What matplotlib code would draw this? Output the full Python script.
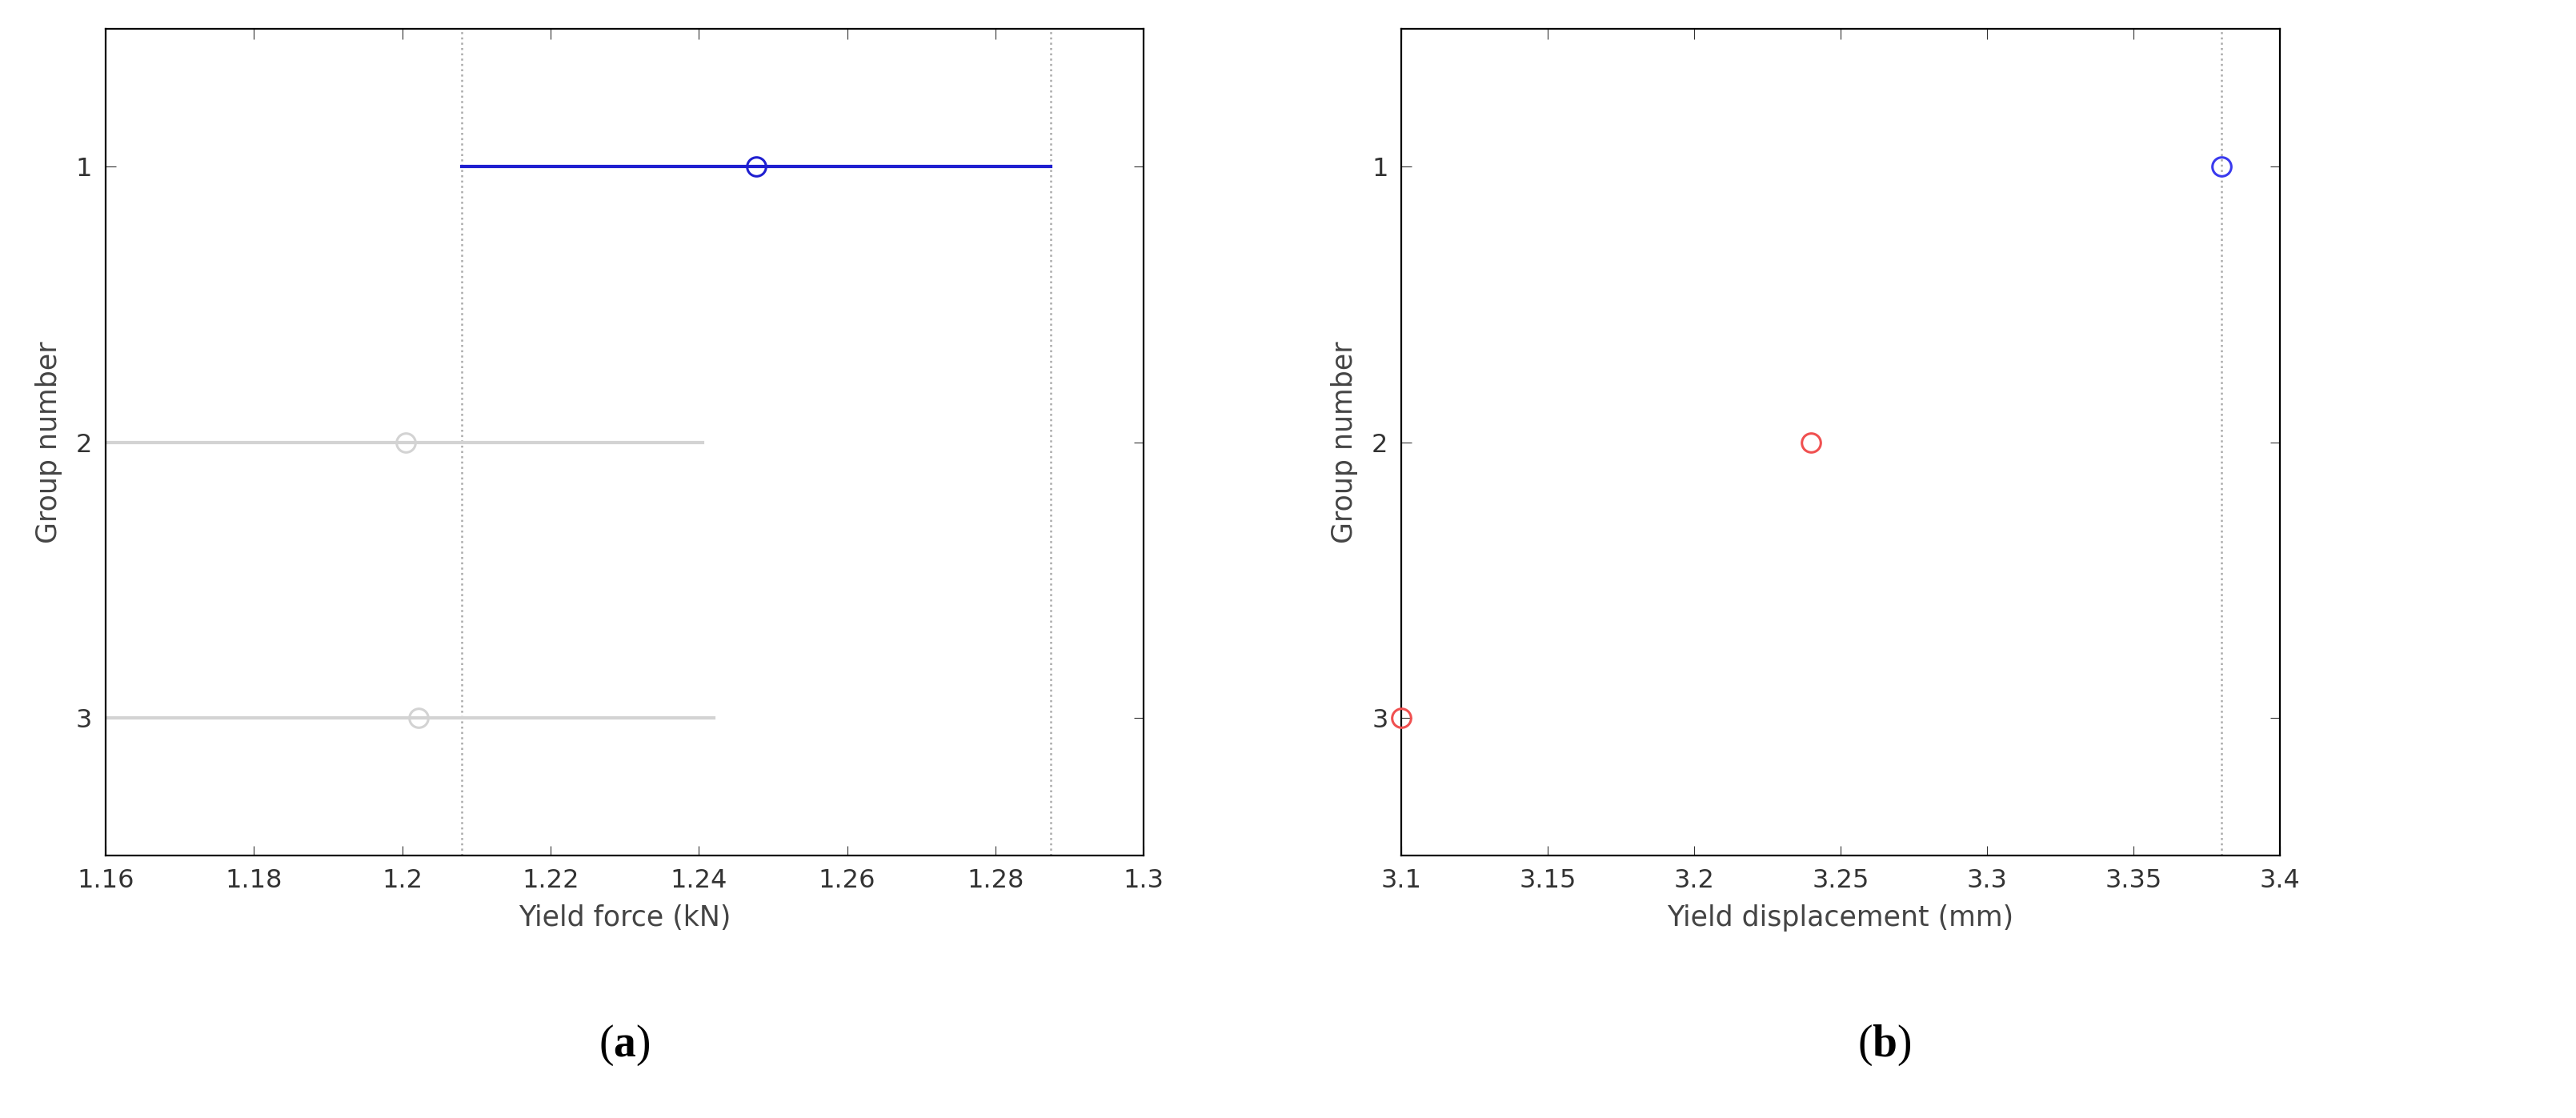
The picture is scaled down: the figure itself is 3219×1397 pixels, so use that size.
import matplotlib
matplotlib.use("Agg")
import matplotlib.pyplot as plt

plt.rcParams["mathtext.fontset"] = "custom"
plt.rcParams["mathtext.rm"] = "Liberation Serif"
plt.rcParams["mathtext.bf"] = "Liberation Serif:bold"

groups = [1, 2, 3]
force_mean = [1.2477, 1.2005, 1.2022]
force_lo = [1.208, 1.160, 1.160]
force_hi = [1.2875, 1.2405, 1.242]
force_colors = ["#1f1fd0", "#d3d3d3", "#d3d3d3"]
force_ref = [1.208, 1.2875]
disp_mean = [3.38, 3.24, 3.10]
disp_colors = ["#3a3aee", "#f05050", "#f05050"]
disp_ref = [3.38]

fig = plt.figure(figsize=(32.19, 13.97), dpi=100)
ax1 = fig.add_axes([0.041, 0.235, 0.403, 0.739])
ax2 = fig.add_axes([0.544, 0.235, 0.341, 0.739])

for ax in (ax1, ax2):
    ax.set_ylim(3.5, 0.5)
    ax.set_yticks(groups)
    ax.tick_params(direction="in", labelsize=23, length=9, top=True, right=True, pad=12, colors="#333333")
    for s in ax.spines.values():
        s.set_linewidth(1.6)
    ax.set_ylabel("Group number", fontsize=25, color="#444444", labelpad=12)

for g, m, lo, hi, c in zip(groups, force_mean, force_lo, force_hi, force_colors):
    ax1.plot([lo, hi], [g, g], color=c, lw=3, zorder=2)
    ax1.plot(m, g, "o", mfc="none", mec=c, ms=17, mew=2.2, zorder=3)
for r in force_ref:
    ax1.axvline(r, color="#aaaaaa", ls=":", lw=1.8, zorder=1)
ax1.set_xlim(1.16, 1.30)
ax1.set_xticks([1.16, 1.18, 1.2, 1.22, 1.24, 1.26, 1.28, 1.3])
ax1.set_xticklabels(["1.16", "1.18", "1.2", "1.22", "1.24", "1.26", "1.28", "1.3"])
ax1.set_xlabel("Yield force (kN)", fontsize=25, color="#444444", labelpad=10)

for g, m, c in zip(groups, disp_mean, disp_colors):
    ax2.plot(m, g, "o", mfc="none", mec=c, ms=17, mew=2.2, zorder=3, clip_on=False)
for r in disp_ref:
    ax2.axvline(r, color="#aaaaaa", ls=":", lw=1.8, zorder=1)
ax2.set_xlim(3.1, 3.4)
ax2.set_xticks([3.1, 3.15, 3.2, 3.25, 3.3, 3.35, 3.4])
ax2.set_xticklabels(["3.1", "3.15", "3.2", "3.25", "3.3", "3.35", "3.4"])
ax2.set_xlabel("Yield displacement (mm)", fontsize=25, color="#444444", labelpad=10)

fig.text(0.2425, 0.055, r"$\mathrm{(}\mathbf{a}\mathrm{)}$", fontsize=40, ha="center")
fig.text(0.7315, 0.055, r"$\mathrm{(}\mathbf{b}\mathrm{)}$", fontsize=40, ha="center")

fig.savefig("out.png", dpi=100)
